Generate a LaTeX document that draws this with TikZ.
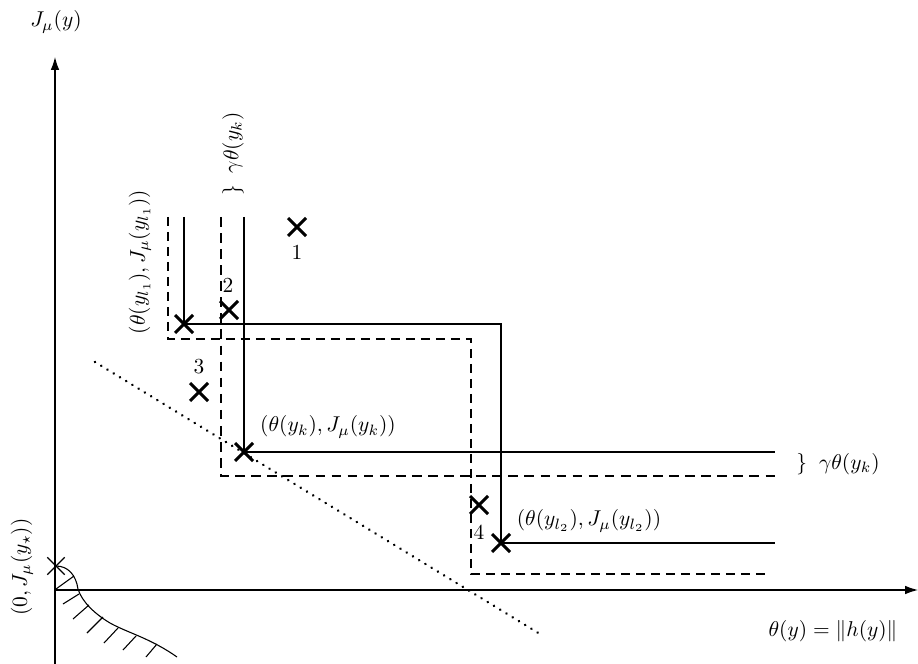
\documentclass[tikz,border=0pt]{standalone}
\usetikzlibrary{shapes.misc,arrows.meta}
\begin{document}
\begin{tikzpicture}[x=0.0164cm,y=-0.0164cm,
  pt/.style={draw,cross out,line width=1.4pt,minimum size=7pt,inner sep=0pt},
  thinpt/.style={draw,cross out,line width=0.6pt,minimum size=7.5pt,inner sep=0pt},
  thinl/.style={line width=0.5pt},
  thickl/.style={line width=1.2pt},
  thindash/.style={line width=0.5pt,dash pattern=on 4pt off 3pt},
  thickdash/.style={line width=1.2pt,dash pattern=on 4.5pt off 3pt},
  lab/.style={inner sep=0pt},
  axis/.style={line width=0.55pt,-{Latex[length=6pt,width=4pt]}}]
\useasboundingbox (0,0) rectangle (918,664);
% axes
\coordinate (o) at (55,590);
\coordinate (ybot) at (55,664);
\coordinate (ytop) at (55,57);
\coordinate (xend) at (918,590);
\draw[axis] (ybot) -- (ytop);
\draw[axis] (o) -- (xend);
\node[lab] (ylab) at (56,22) {$J_\mu(y)$};
\node[lab] (xlab) at (833,631) {$\theta(y)=\|h(y)\|$};
% points
\node[pt] (p1) at (297,227) {};
\node[lab] (n1) at (297,252) {1};
\node[pt] (p2) at (229,310) {};
\node[lab] (n2) at (228,285) {2};
\node[pt] (p3) at (199,392) {};
\node[lab] (n3) at (199,367) {3};
\node[pt] (p4) at (479,505) {};
\node[lab] (n4) at (479,532) {4};
\node[pt] (pl1) at (184,324) {};
\node[pt] (pk) at (244,452) {};
\node[pt] (pl2) at (501,543) {};
\node[thinpt] (ps) at (56,566) {};
% frontier lines
\coordinate (l1top) at (184,217);
\coordinate (l1c) at (501,324);
\coordinate (l2end) at (775,543);
\draw[thinl] (l1top) -- (pl1.center) -- (l1c) -- (pl2.center) -- (l2end);
\coordinate (d1top) at (168,217);
\coordinate (d1a) at (168,339);
\coordinate (d1b) at (471,339);
\coordinate (d1c) at (471,574);
\coordinate (d1end) at (767,574);
\draw[thindash] (d1top) -- (d1a) -- (d1b) -- (d1c) -- (d1end);
\coordinate (ktop) at (244,217);
\coordinate (kend) at (775,452);
\draw[thickl] (ktop) -- (pk.center) -- (kend);
\coordinate (dktop) at (221,217);
\coordinate (dkc) at (221,476);
\coordinate (dkend) at (775,476);
\draw[thickdash] (dktop) -- (dkc) -- (dkend);
% labels
\node[lab,rotate=90] (gtop) at (233,154) {$\}\;\;\gamma\theta(y_k)$};
\node[lab] (gright) at (838,464) {$\}\;\;\gamma\theta(y_k)$};
\node[lab,rotate=90] (ll1) at (140,262) {$(\theta(y_{l_1}),J_\mu(y_{l_1}))$};
\node[lab] (lk) at (328,427) {$(\theta(y_k),J_\mu(y_k))$};
\node[lab] (ll2) at (589,521) {$(\theta(y_{l_2}),J_\mu(y_{l_2}))$};
\node[lab,rotate=90] (ls) at (22,567) {$(0,J_\mu(y_\star))$};
% dotted line
\coordinate (da) at (95,362);
\coordinate (db) at (540,634);
\draw[line width=1.3pt,dash pattern=on 0.01pt off 3.4pt,line cap=round] (da) -- (db);
% hatched region
\draw[thinl] (ps.center) .. controls (68,566) and (76,575) .. (78,589)
  .. controls (82,602) and (95,614) .. (110,623)
  .. controls (128,633) and (150,638) .. (177,657);
\draw[thinl] (56,589) -- (74,576);
\foreach \a/\b/\c/\d in {79/594/63/604, 89/605/73/619, 103/617/87/633,
  118/628/104/643, 136/636/123/650, 157/644/146/657}
  \draw[thinl] (\a,\b) -- (\c,\d);
\end{tikzpicture}
\end{document}
